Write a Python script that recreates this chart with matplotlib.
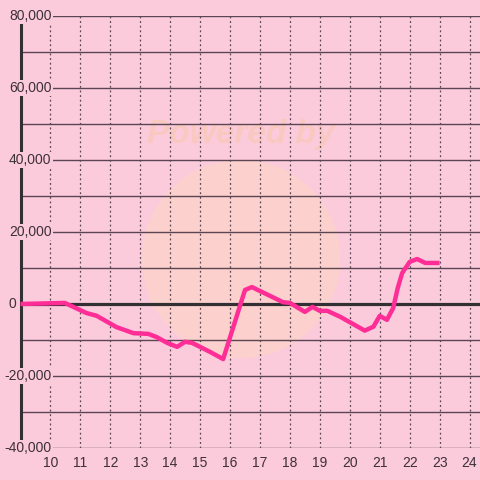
import matplotlib
matplotlib.use("Agg")
import matplotlib.pyplot as plt
from matplotlib.patches import Circle

# values
hours = [9.0, 10.48, 11.2, 11.55, 12.2, 12.77, 13.27, 13.55, 13.9, 14.23, 14.5,
         14.73, 15.33, 15.77, 16.34, 16.5, 16.73, 17.77, 18.0, 18.5, 18.75,
         19.0, 19.25, 19.69, 20.5, 20.79, 21.0, 21.24, 21.45, 21.6, 21.75,
         22.0, 22.25, 22.52, 22.75, 23.0]
balance = [0, 300, -2500, -3300, -6400, -8100, -8300, -9200, -10800, -11900, -10500,
           -10800, -13300, -15300, -300, 3900, 4700, 500, 300, -2200, -800,
           -1900, -1900, -3600, -7400, -6300, -3300, -4400, -1100, 4400, 8600,
           11700, 12500, 11400, 11400, 11400]
x_ticks = list(range(10, 25))
y_ticks = [-40000, -20000, 0, 20000, 40000, 60000, 80000]
y_minor = [-30000, -10000, 10000, 30000, 50000, 70000]

bg = "#fccbdb"
grid_col = "#5a4553"
text_col = "#3d3038"

plt.rcParams["font.family"] = ["Liberation Sans", "DejaVu Sans"]

fig = plt.figure(figsize=(4.8, 4.8), dpi=100, facecolor=bg)
ax = fig.add_axes([20.5 / 480, 32 / 480, 1 - 20.5 / 480, 432 / 480])
ax.set_facecolor(bg)

# faint watermark behind the grid
ax.add_patch(Circle((241 / 480, 1 - 259 / 480), 99 / 480, transform=fig.transFigure,
                    facecolor="#fdd3c8", edgecolor="none", alpha=0.75, zorder=0.5,
                    clip_on=False))
ax.text(241 / 480, 1 - 134 / 480, "Powered by", transform=fig.transFigure,
        ha="center", va="center", fontsize=24, fontweight="bold", fontstyle="italic",
        color="#f9c8c0", zorder=0.6)

ax.set_xlim(9, 24.35)
ax.set_ylim(-40000, 80000)

for y in y_ticks + y_minor:
    ax.axhline(y, color=grid_col, lw=1.0, zorder=1)
for x in x_ticks:
    ax.axvline(x, color=grid_col, lw=0.9, ls=(0, (1.5, 2.2)), zorder=1)
ax.axhline(0, color="#333033", lw=2.3, zorder=2)

ax.plot(hours, balance, color="#ff2d96", lw=3.2, solid_joinstyle="round",
        solid_capstyle="butt", zorder=3, clip_on=False)

for s in ["top", "right", "bottom"]:
    ax.spines[s].set_visible(False)
ax.spines["left"].set_color("#333033")
ax.spines["left"].set_linewidth(2.2)
ax.spines["left"].set_zorder(2)

ax.set_xticks([])
ax.set_yticks([])
for x in x_ticks:
    ax.text(x, -0.035, str(x), transform=ax.get_xaxis_transform(), ha="center", va="center",
            fontsize=10, color=text_col, clip_on=False)
for y in y_ticks:
    if y == 0:
        ax.text(-4.5 / 460, y, "0", transform=ax.get_yaxis_transform(), ha="right",
                va="center", fontsize=10, color=text_col, clip_on=False, zorder=5)
        continue
    ax.text(31 / 460, y, f"{y:,}", transform=ax.get_yaxis_transform(), ha="right", va="center",
            fontsize=10, color=text_col, clip_on=False, zorder=5,
            bbox=dict(facecolor=bg, edgecolor="none", pad=1.0))

fig.savefig("out.png", dpi=100, facecolor=bg)
